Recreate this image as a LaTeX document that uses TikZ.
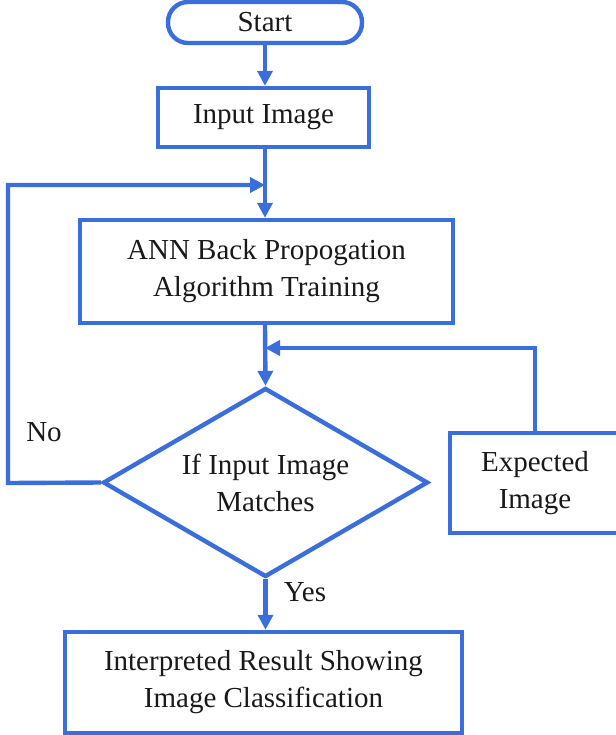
\documentclass[tikz,border=0pt]{standalone}
\usepackage{fontspec}
\setmainfont{Liberation Serif}
\usetikzlibrary{shapes.geometric,arrows.meta}
\definecolor{fblue}{RGB}{58,110,220}
\begin{document}
\begin{tikzpicture}[x=0.5pt,y=-0.5pt,
  every node/.style={font=\rmfamily\fontsize{14.5}{18.5}\selectfont, text=black!90, align=center, inner sep=0pt},
  boxs/.style={draw=fblue, line width=2.2pt, rectangle},
  terms/.style={draw=fblue, line width=2.2pt, rectangle, rounded corners=10pt},
  decs/.style={draw=fblue, line width=2.2pt, diamond, aspect=2},
  arr/.style={draw=fblue, line width=2.2pt, -{Triangle[length=7.5pt,width=7.5pt]}}]
\useasboundingbox (0,0) rectangle (616,735);

\node[terms, minimum width=97pt, minimum height=20.5pt] (start) at (265,22.5) {Start};
\node[boxs, minimum width=105.5pt, minimum height=29.5pt] (input) at (263.5,117.5) {Input Image};
\node[boxs, minimum width=186.5pt, minimum height=51.5pt] (ann) at (266.5,271.5) {ANN Back Propogation\\Algorithm Training};
\node[decs, minimum width=162.5pt, minimum height=94.5pt] (dec) at (265.5,482.5) {If Input Image\\Matches};
\node[boxs, minimum width=85pt, minimum height=50pt] (exp) at (535,483) {Expected\\Image};
\node[boxs, minimum width=198.5pt, minimum height=50.5pt] (res) at (263.5,682.5) {Interpreted Result Showing\\Image Classification};

\node (no) at (44,432) {No};
\node (yes) at (305,592) {Yes};

\coordinate (m1) at (265,185);
\coordinate (m2) at (265,348);
\coordinate (c1) at (8,483);
\coordinate (c2) at (8,185);
\coordinate (c3) at (535,348);

\draw[arr] (start.south -| 265,0) -- (input.north -| 265,0);
\draw[arr] (input.south -| 265,0) -- (ann.north -| 265,0);
\draw[arr] (dec.west) -- (c1) -- (c2) -- (m1);
\draw[arr] (ann.south -| 265,0) -- (dec.north);
\draw[arr] (exp.north) -- (c3) -- (m2);
\draw[arr] (dec.south) -- (res.north -| dec.south);
\end{tikzpicture}
\end{document}
